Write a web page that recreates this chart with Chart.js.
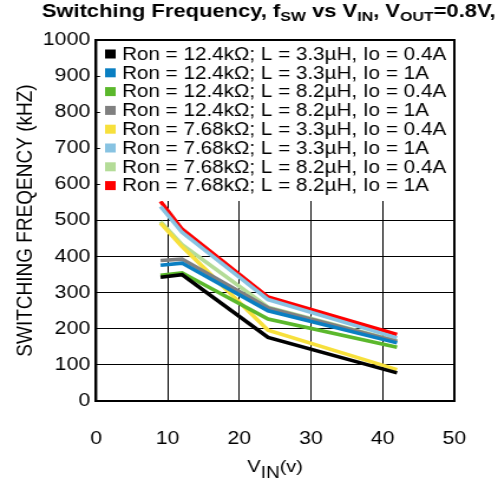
<!DOCTYPE html>
<html>
<head>
<meta charset="utf-8">
<script src="https://cdn.jsdelivr.net/npm/chart.js@4"></script>
<style>
  html, body { margin: 0; padding: 0; background: #fff; }
</style>
</head>
<body>
<!-- the reference is stretched sideways, so the canvas is drawn narrow and widened by css -->
<canvas id="chart" width="422" height="489" style="width:498px;height:489px"></canvas>
<script>
const vin = [9, 12, 24, 42];

const ron124L33Io04 = [343, 350, 176, 78];
const ron124L33Io1 = [376, 382, 250, 161];
const ron124L82Io04 = [348, 355, 227, 149];
const ron124L82Io1 = [389, 393, 258, 165];
const ron768L33Io04 = [493, 428, 196, 87];
const ron768L33Io1 = [539, 467, 281, 175];
const ron768L82Io04 = [497, 433, 260, 166];
const ron768L82Io1 = [553, 476, 288, 184];

const seriesNames = [
    'Ron = 12.4kΩ; L = 3.3µH, Io = 0.4A',
    'Ron = 12.4kΩ; L = 3.3µH, Io = 1A',
    'Ron = 12.4kΩ; L = 8.2µH, Io = 0.4A',
    'Ron = 12.4kΩ; L = 8.2µH, Io = 1A',
    'Ron = 7.68kΩ; L = 3.3µH, Io = 0.4A',
    'Ron = 7.68kΩ; L = 3.3µH, Io = 1A',
    'Ron = 7.68kΩ; L = 8.2µH, Io = 0.4A',
    'Ron = 7.68kΩ; L = 8.2µH, Io = 1A'
];
const seriesValues = [
    ron124L33Io04, ron124L33Io1, ron124L82Io04, ron124L82Io1,
    ron768L33Io04, ron768L33Io1, ron768L82Io04, ron768L82Io1
];
const seriesColors = [
    '#000000', '#0a7fc2', '#5bb82c', '#808080',
    '#f7e03c', '#88c3e2', '#b4dc98', '#ff0000'
];

const xTicks = [0, 10, 20, 30, 40, 50];
const yTicks = [0, 100, 200, 300, 400, 500, 600, 700, 800, 900, 1000];

const FONT = '"Liberation Sans", Arial, sans-serif';

// draws a run of text pieces, some of them as subscripts
function drawRich(ctx, parts, x, y, center) {
    let width = 0;
    parts.forEach(p => {
        ctx.font = p.font;
        width += ctx.measureText(p.text).width;
    });
    let cx = center ? x - width / 2 : x;
    parts.forEach(p => {
        ctx.font = p.font;
        ctx.fillText(p.text, cx, y + (p.dy || 0));
        cx += ctx.measureText(p.text).width;
    });
}

const decorations = {
    id: 'decorations',
    afterDatasetsDraw(chart) {
        const {ctx, chartArea} = chart;
        ctx.save();

        // legend panel sits over the grid in the upper part of the plot
        ctx.fillStyle = '#fff';
        ctx.fillRect(chartArea.left + 3.4, chartArea.top, chartArea.right - chartArea.left - 3.4, 201 - chartArea.top);

        ctx.textBaseline = 'middle';
        ctx.textAlign = 'left';
        chart.data.datasets.forEach((ds, i) => {
            const y = chartArea.top + 14 + i * 18.8;
            ctx.fillStyle = ds.borderColor;
            ctx.fillRect(chartArea.left + 7.6, y - 4.5, 9, 9);
            ctx.fillStyle = '#000';
            ctx.font = '17.5px ' + FONT;
            ctx.fillText(ds.label, chartArea.left + 22, y + 1);
        });

        // plot frame
        ctx.lineWidth = 2;
        ctx.strokeStyle = '#000';
        ctx.strokeRect(chartArea.left, chartArea.top, chartArea.right - chartArea.left, chartArea.bottom - chartArea.top);

        // chart title
        ctx.textBaseline = 'alphabetic';
        ctx.fillStyle = '#000';
        const big = 'bold 18.6px ' + FONT;
        const small = 'bold 13.5px ' + FONT;
        drawRich(ctx, [
            {text: 'Switching Frequency, f', font: big},
            {text: 'SW', font: small, dy: 4},
            {text: ' vs V', font: big},
            {text: 'IN', font: small, dy: 4},
            {text: ', V', font: big},
            {text: 'OUT', font: small, dy: 4},
            {text: '=0.8V,', font: big}
        ], 35.4, 17, false);

        // x axis title
        const xf = '17px ' + FONT;
        drawRich(ctx, [
            {text: 'V', font: xf},
            {text: 'IN', font: '16px ' + FONT, dy: 6},
            {text: '(v)', font: xf}
        ], (chartArea.left + chartArea.right) / 2, 471.5, true);

        ctx.restore();
    }
};

const datasets = seriesValues.map((vals, i) => ({
    label: seriesNames[i],
    data: vin.map((v, j) => ({x: v, y: vals[j]})),
    borderColor: seriesColors[i],
    backgroundColor: seriesColors[i],
    borderWidth: 3.6,
    pointRadius: 0,
    tension: 0,
    fill: false
}));

new Chart(document.getElementById('chart'), {
    type: 'line',
    data: {datasets},
    options: {
        responsive: false,
        animation: false,
        events: [],
        layout: {padding: {left: 0, top: 40, right: 36.4, bottom: 0}},
        plugins: {
            legend: {display: false},
            tooltip: {enabled: false},
            title: {display: false}
        },
        scales: {
            x: {
                type: 'linear',
                min: xTicks[0],
                max: xTicks[xTicks.length - 1],
                afterBuildTicks: scale => { scale.ticks = xTicks.map(v => ({value: v})); },
                afterFit: scale => { scale.height = 88; },
                grid: {color: '#000', lineWidth: 1, drawTicks: false},
                border: {color: '#000', width: 2},
                ticks: {color: '#000', padding: 27, font: {family: FONT, size: 18}, maxRotation: 0,
                        callback: v => String(v)}
            },
            y: {
                min: yTicks[0],
                max: yTicks[yTicks.length - 1],
                afterBuildTicks: scale => { scale.ticks = yTicks.map(v => ({value: v})); },
                afterFit: scale => { scale.width = 81.4; },
                grid: {color: '#000', lineWidth: 1, drawTicks: false},
                border: {color: '#000', width: 2},
                ticks: {color: '#000', padding: 5, font: {family: FONT, size: 18},
                        callback: v => String(v)},
                title: {
                    display: true,
                    text: 'SWITCHING FREQENCY (kHZ)',
                    color: '#000',
                    font: {family: FONT, size: 19},
                    padding: {top: 10, bottom: 0}
                }
            }
        }
    },
    plugins: [decorations]
});
</script>
</body>
</html>
